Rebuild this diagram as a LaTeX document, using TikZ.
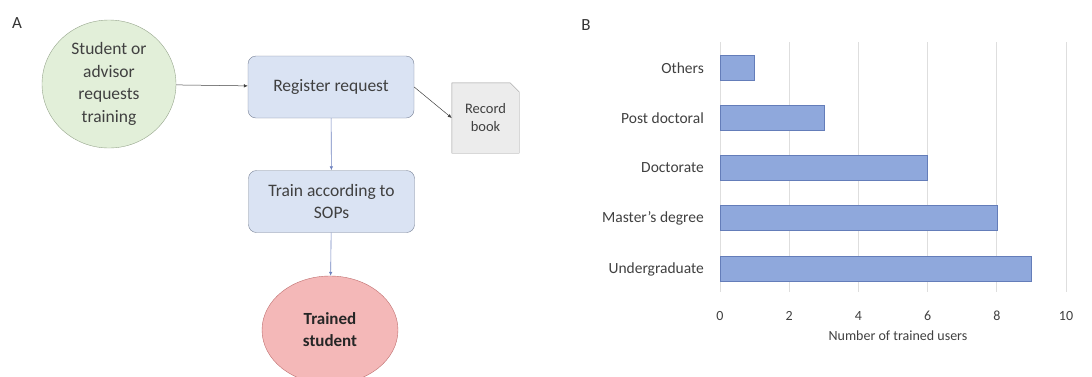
\documentclass[tikz,border=0pt]{standalone}
\usepackage{fontspec}
\setmainfont{Carlito}
\usetikzlibrary{shapes.geometric,arrows.meta,positioning}
\definecolor{startfill}{RGB}{226,239,217}
\definecolor{startline}{RGB}{150,165,140}
\definecolor{stepfill}{RGB}{218,227,243}
\definecolor{stepline}{RGB}{120,130,150}
\definecolor{endfill}{RGB}{244,184,184}
\definecolor{endline}{RGB}{190,110,110}
\definecolor{bookfill}{RGB}{236,236,236}
\definecolor{bookline}{RGB}{150,150,150}
\definecolor{flowarrow}{RGB}{110,130,190}
\definecolor{barfill}{RGB}{143,168,220}
\definecolor{barline}{RGB}{100,125,185}
\definecolor{gridgray}{RGB}{222,222,222}
\definecolor{txtgray}{RGB}{64,64,64}
\begin{document}
\begin{tikzpicture}[x=1pt,y=-1pt,
  every node/.style={inner sep=0pt, align=center, text=txtgray},
  start/.style={ellipse, draw=startline, fill=startfill, minimum width=134pt, minimum height=128pt, font=\fontsize{17.5}{22.7}\selectfont},
  stepbox/.style={rectangle, rounded corners=8pt, draw=stepline, fill=stepfill, minimum width=166pt, minimum height=62pt, font=\fontsize{17.5}{22}\selectfont},
  finish/.style={ellipse, draw=endline, fill=endfill, minimum width=136pt, minimum height=108pt, font=\bfseries\fontsize{17}{22}\selectfont, text=black!85},
  bookbox/.style={minimum width=67pt, minimum height=70pt, font=\fontsize{14.5}{18}\selectfont},
  blackarrow/.style={-{Latex[length=4pt,width=3.5pt]}, black!75, line width=0.5pt},
  bluearrow/.style={-{Latex[length=4pt,width=3.5pt]}, flowarrow, line width=0.6pt},
  catlabel/.style={anchor=east, font=\fontsize{15.5}{18}\selectfont},
  ticklabel/.style={font=\fontsize{14}{16}\selectfont},
  panel/.style={font=\fontsize{17}{19}\selectfont, text=black!80}
]
\useasboundingbox (0,0) rectangle (1092,376);

% panel A: flow of a training request
\node[panel] (labA) at (17,23) {A};
\node[start] (request) at (109,84) {Student or\\advisor\\requests\\training};
\node[stepbox] (register) at (331,87) {Register request};
\node[stepbox] (train) at (331.5,201.5) {Train according to\\SOPs};
\node[finish] (trained) at (330,330) {Trained\\student};
\node[bookbox] (book) at (485.5,118) {Record\\book};
\draw[bookline, fill=bookfill] (book.south west) -- (book.north west) -- ([xshift=-9pt]book.north east)
  -- ([yshift=-9pt]book.north east) -- (book.south east) -- cycle;
\node[bookbox] at (book) {Record\\book};

\draw[blackarrow] (request) -- (register);
\draw[blackarrow] (register.east) -- (book.west);
\draw[bluearrow] (register) -- (train);
\draw[bluearrow] (train) -- (trained);

% panel B: trained users by level
\node[panel] (labB) at (586,25) {B};
\foreach \v in {0,2,...,10}{
  \draw[gridgray, line width=0.8pt] (720+34.6*\v,42) -- (720+34.6*\v,292);
  \node[ticklabel] (tick\v) at (720+34.6*\v,316) {\v};
}
\foreach \n/\lab/\y in {1/Others/68, 3/Post doctoral/118, 6/Doctorate/168, 8/Master's degree/218, 9/Undergraduate/269}{
  \fill[barfill, draw=barline, line width=0.6pt] (720,\y-12.5) rectangle (720+34.6*\n,\y+12.5);
  \node[catlabel] (cat\n) at (704,\y) {\lab};
}
\node[ticklabel] (xtitle) at (898,336) {Number of trained users};
\end{tikzpicture}
\end{document}
